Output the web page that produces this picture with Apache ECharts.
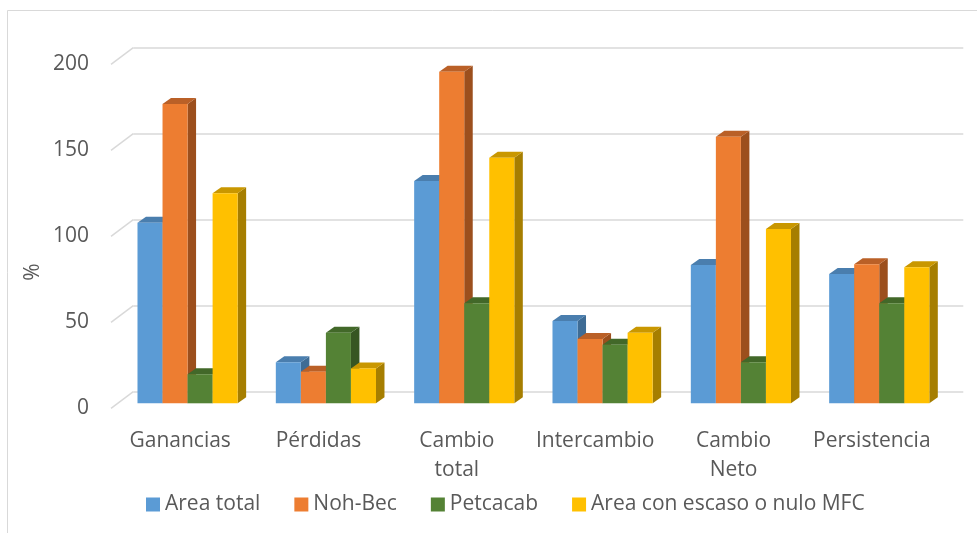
<!DOCTYPE html>
<html>
<head>
<meta charset="utf-8">
<script src="https://cdn.jsdelivr.net/npm/echarts@6/dist/echarts.min.js"></script>
<style>
html,body{margin:0;padding:0;background:#fff;}
#chart{width:977px;height:533px;}
</style>
</head>
<body>
<div id="chart"></div>
<script>
const categories = ['Ganancias', 'Pérdidas', 'Cambio total', 'Intercambio', 'Cambio Neto', 'Persistencia'];
const seriesNames = ['Area total', 'Noh-Bec', 'Petcacab', 'Area con escaso o nulo MFC'];
const areaTotal = [105.0, 23.8, 129.2, 47.8, 80.4, 75.2];
const nohBec = [174.0, 18.4, 192.8, 37.4, 155.0, 80.8];
const petcacab = [16.9, 41.0, 58.1, 34.1, 23.8, 58.1];
const escasoMFC = [122.1, 20.3, 142.8, 41.0, 101.3, 79.1];
const yTicks = [0, 50, 100, 150, 200];

const palettes = [
  {front: '#5B9BD5', top: '#4A7EAE', side: '#3E6C95'},
  {front: '#ED7D31', top: '#BA6027', side: '#9C4F1D'},
  {front: '#548235', top: '#426829', side: '#375622'},
  {front: '#FFC000', top: '#C99700', side: '#A67E00'}
];
const allData = [areaTotal, nohBec, petcacab, escasoMFC];

const FONT = 'Open Sans';
const TXT = '#595959';

function barSeries(idx) {
  const pal = palettes[idx];
  return {
    type: 'custom',
    name: seriesNames[idx],
    xAxisIndex: 1,
    yAxisIndex: 1,
    z: 3,
    itemStyle: {color: pal.front},
    encode: {x: 0, y: 1},
    data: allData[idx].map((v, i) => [i, v]),
    renderItem: function (params, api) {
      const c = api.value(0), v = api.value(1);
      const base = api.coord([c, 0]);
      const top = api.coord([c, v]);
      const band = api.size([1, 0])[0];
      const w = band * 0.181;
      const ox = 7.4, oy = -5;
      const x0 = base[0] + ox + (idx - 2) * w;
      const x1 = x0 + w;
      const yb = base[1] + oy, yt = top[1] + oy;
      const dx = 8.5, dy = -6;
      return {
        type: 'group',
        children: [
          {type: 'polygon', shape: {points: [[x1, yb], [x1 + dx, yb + dy], [x1 + dx, yt + dy], [x1, yt]]}, style: {fill: pal.side}},
          {type: 'polygon', shape: {points: [[x0, yt], [x0 + dx, yt + dy], [x1 + dx, yt + dy], [x1, yt]]}, style: {fill: pal.top}},
          {type: 'rect', shape: {x: x0, y: yt, width: w, height: yb - yt}, style: {fill: pal.front}}
        ]
      };
    }
  };
}

const chart = echarts.init(document.getElementById('chart'), null, {renderer: 'canvas'});
const option = {
  animation: false,
  backgroundColor: '#fff',
  textStyle: {fontFamily: FONT},
  graphic: [
    {type: 'rect', shape: {x: 7.5, y: 10.5, width: 1100, height: 700}, style: {fill: null, stroke: '#D9D9D9', lineWidth: 1}, silent: true, z: 0},
    {type: 'text', x: 33, y: 272, rotation: Math.PI / 2, style: {text: '%', fill: TXT, font: '21px "Open Sans"', textAlign: 'center', textVerticalAlign: 'middle'}}
  ],
  grid: [
    {left: 133.3, top: 47.3, width: 830, height: 344.4},
    {left: 111, top: 64.3, width: 830, height: 344}
  ],
  xAxis: [
    {type: 'category', gridIndex: 0, data: categories, show: false},
    {
      type: 'category', gridIndex: 1, data: categories,
      axisLine: {show: false}, axisTick: {show: false},
      axisLabel: {
        color: TXT, fontSize: 21, fontFamily: FONT, margin: 18, lineHeight: 29, interval: 0,
        formatter: v => v.replace(' ', '\n')
      }
    }
  ],
  yAxis: [
    {
      type: 'value', gridIndex: 0, min: 0, max: 200, interval: 50,
      axisLine: {show: false}, axisTick: {show: false}, axisLabel: {show: false},
      splitLine: {lineStyle: {color: '#D9D9D9', width: 1.5}}
    },
    {
      type: 'value', gridIndex: 1, min: 0, max: 200, interval: 50,
      axisLine: {show: false}, axisTick: {show: false}, splitLine: {show: false},
      axisLabel: {color: TXT, fontSize: 21, fontFamily: FONT, margin: 22, padding: [4, 0, 0, 0]}
    }
  ],
  legend: {
    data: seriesNames,
    left: 146, top: 494, padding: 0,
    icon: 'rect', itemWidth: 14, itemHeight: 14, itemGap: 34,
    textStyle: {color: TXT, fontSize: 21, fontFamily: FONT}
  },
  series: [
    {
      type: 'custom', name: 'diag', xAxisIndex: 1, yAxisIndex: 1, z: 1, silent: true,
      encode: {x: 0, y: 1},
      data: yTicks.map(t => [0, t]),
      renderItem: function (params, api) {
        const y = api.coord([0, api.value(1)])[1];
        const x = params.coordSys.x;
        return {type: 'line', shape: {x1: x, y1: y, x2: x + 22.3, y2: y - 16.7}, style: {stroke: '#D9D9D9', lineWidth: 1.5}};
      }
    },
    barSeries(0), barSeries(1), barSeries(2), barSeries(3)
  ]
};
chart.setOption(option);
</script>
</body>
</html>
